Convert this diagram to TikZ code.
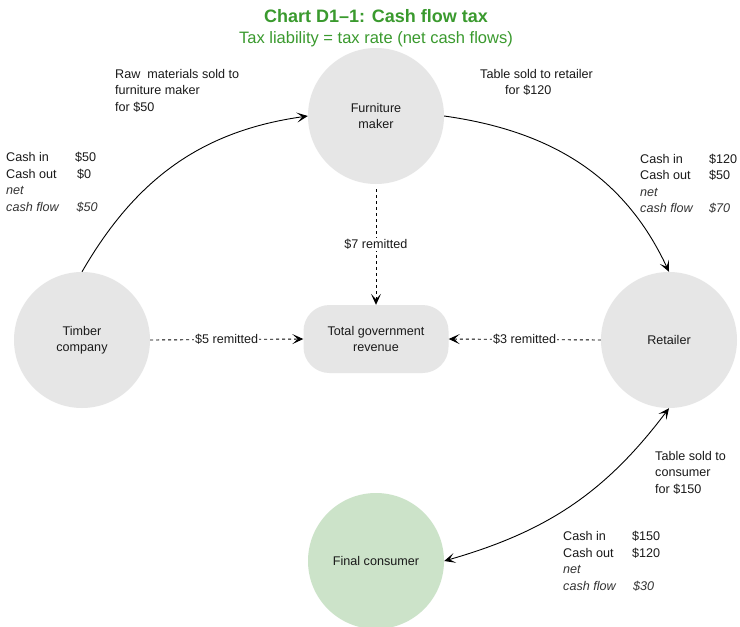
\documentclass[tikz,border=0pt]{standalone}
\usepackage{fontspec}
\setmainfont{Liberation Sans}
\usetikzlibrary{arrows.meta}
\definecolor{nodegray}{HTML}{E6E6E6}
\definecolor{consgreen}{HTML}{CCE3C9}
\definecolor{titlegreen}{HTML}{3A9A2E}
\definecolor{txt}{HTML}{1A1A1A}
\definecolor{txtit}{HTML}{333333}
\newcommand{\itgray}[1]{\textcolor{txtit}{\textit{#1}}}
\begin{document}
\begin{tikzpicture}[x=1pt,y=1pt,
  party/.style={circle, fill=nodegray, minimum size=136pt, inner sep=0pt, align=center,
    font=\fontsize{12.6}{16}\selectfont, text=txt},
  govbox/.style={rectangle, rounded corners=26pt, fill=nodegray, minimum width=145pt,
    minimum height=68pt, inner sep=0pt, align=center, font=\fontsize{12.6}{16}\selectfont, text=txt},
  tipstyle/.tip={Stealth[length=11pt,width=10pt,inset=5.5pt]},
  flow/.style={-tipstyle, line width=0.9pt, black},
  remit/.style={flow, dash pattern=on 3pt off 3pt},
  remitlbl/.style={fill=white, inner sep=1pt, font=\fontsize{12.6}{16}\selectfont, text=txt},
  lbl/.style={inner sep=0pt, anchor=base west, font=\fontsize{12.6}{16.5}\selectfont, text=txt},
  titlestyle/.style={anchor=base, inner sep=0pt, text=titlegreen}
]
\useasboundingbox (0,0) rectangle (740,-627);
\fill[white] (0,0) rectangle (740,-627);

% titles
\node[titlestyle, font=\bfseries\fontsize{18}{20}\selectfont] (title) at (376,-22) {Chart D1\textendash1: Cash flow tax};
\node[titlestyle, font=\fontsize{16.5}{18}\selectfont] (subtitle) at (376,-43) {Tax liability = tax rate (net cash flows)};

% parties
\node[party] (timber) at (82,-340) {Timber\\company};
\node[party] (furn) at (376,-116) {Furniture\\maker};
\node[party] (retail) at (669,-340) {Retailer};
\node[party, fill=consgreen] (cons) at (376,-561) {Final consumer};
\node[govbox] (gov) at (376,-339) {Total government\\revenue};

% sales flows
\draw[flow] (timber.north) to[out=60, in=188] (furn.west);
\draw[flow] (furn.east) to[out=-8, in=115] (retail.north);
\draw[flow, tipstyle-tipstyle] (cons.east) to[out=16, in=233] (retail.south);

% remittances
\draw[remit, shorten <=5pt] (furn.south) -- node[remitlbl] (r7) {\$7 remitted} (gov.north);
\draw[remit] (timber.east) -- node[remitlbl] (r5) {\$5 remitted} (gov.west);
\draw[remit] (retail.west) -- node[remitlbl] (r3) {\$3 remitted} (gov.east);

% sale descriptions
\node[lbl] (rawtxt) at (115,-78) {\begin{tabular}[t]{@{}l@{}}Raw\hspace{3.5pt} materials sold to\\furniture maker\\for \$50\end{tabular}};
\node[lbl] (rettxt) at (480,-78) {\begin{tabular}[t]{@{}l@{}}Table sold to retailer\\\hspace{25pt}for \$120\end{tabular}};
\node[lbl] (constxt) at (655,-460) {\begin{tabular}[t]{@{}l@{}}Table sold to\\consumer\\for \$150\end{tabular}};

% cash blocks
\node[lbl] (timbercash) at (6,-161.5) {\begin{tabular}[t]{@{}p{69pt}@{}l@{}}Cash in & \$50\\Cash out & \hspace{2pt}\$0\\\itgray{net} & \\\itgray{cash flow} & \hspace{1.5pt}\itgray{\$50}\end{tabular}};
\node[lbl] (retcash) at (640,-163) {\begin{tabular}[t]{@{}p{69pt}@{}l@{}}Cash in & \$120\\Cash out & \$50\\\itgray{net} & \\\itgray{cash flow} & \itgray{\$70}\end{tabular}};
\node[lbl] (conscash) at (563,-540.5) {\begin{tabular}[t]{@{}p{69pt}@{}l@{}}Cash in & \$150\\Cash out & \$120\\\itgray{net} & \\\itgray{cash flow} & \hspace{1pt}\itgray{\$30}\end{tabular}};
\end{tikzpicture}
\end{document}
